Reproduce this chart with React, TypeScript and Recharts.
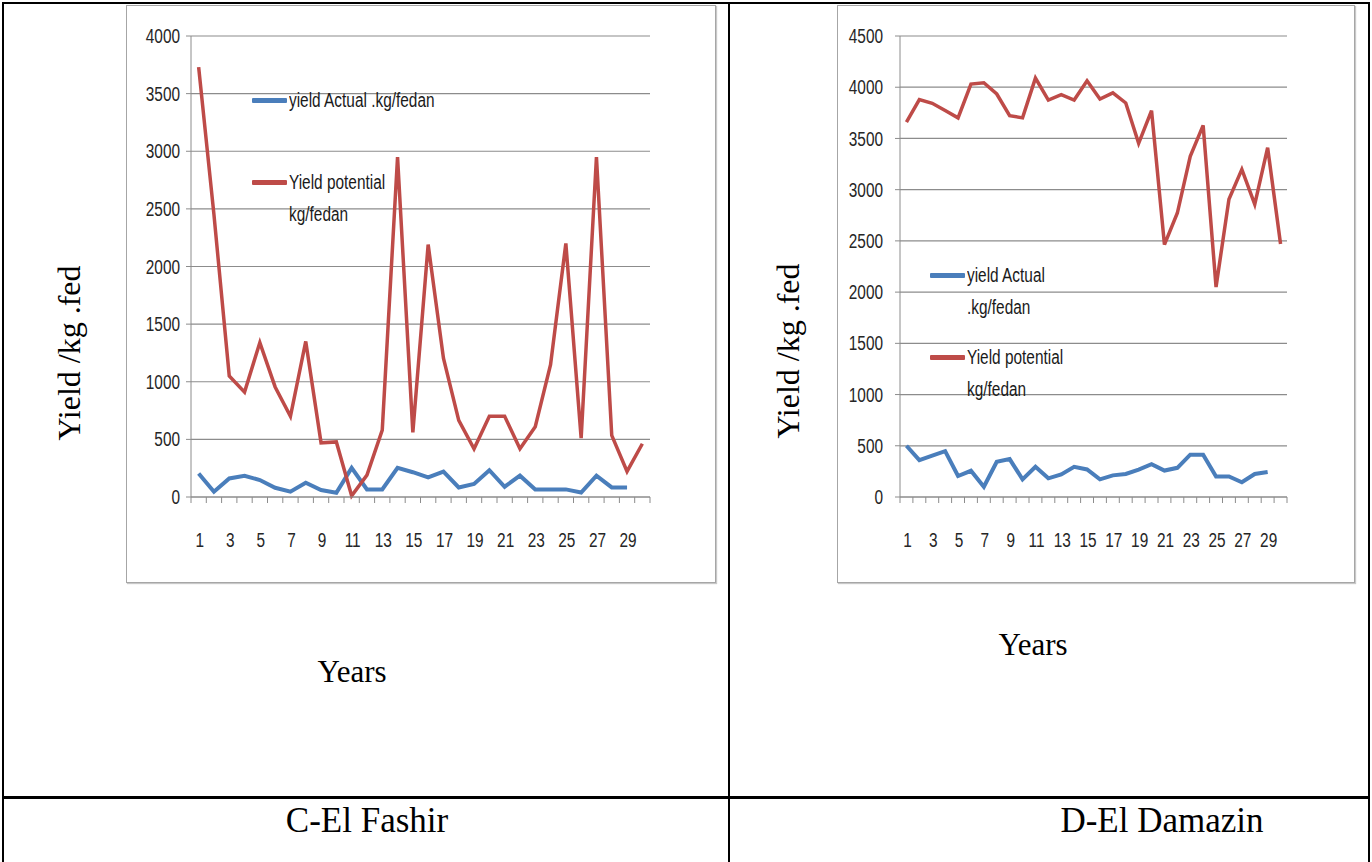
import { LineChart, Line, XAxis, YAxis, CartesianGrid, Legend } from "recharts";

const years = [1, 2, 3, 4, 5, 6, 7, 8, 9, 10, 11, 12, 13, 14, 15, 16, 17, 18, 19, 20, 21, 22, 23, 24, 25, 26, 27, 28, 29, 30];

// El Fashir, kg/fedan
const fashirActual = [204, 46, 161, 184, 147, 80, 46, 124, 60, 37, 253, 66, 66, 253, 215, 170, 220, 83, 113, 232, 89, 185, 66, 66, 66, 39, 185, 83, 83, null];
const fashirPotential = [3730, 2450, 1050, 910, 1340, 955, 700, 1350, 470, 478, 10, 190, 580, 2950, 560, 2190, 1205, 665, 418, 700, 700, 418, 610, 1148, 2200, 510, 2950, 535, 222, 462];
const fashirTicks = [0, 500, 1000, 1500, 2000, 2500, 3000, 3500, 4000];

// El Damazin, kg/fedan
const damazinActual = [500, 360, 403, 448, 205, 256, 100, 344, 370, 172, 295, 182, 221, 295, 269, 172, 211, 225, 268, 321, 258, 285, 413, 413, 201, 201, 144, 225, 245, null];
const damazinPotential = [3659, 3879, 3843, 3772, 3701, 4031, 4044, 3934, 3723, 3701, 4089, 3875, 3927, 3875, 4063, 3885, 3945, 3846, 3452, 3772, 2463, 2772, 3326, 3628, 2050, 2906, 3198, 2856, 3410, 2470];
const damazinTicks = [0, 500, 1000, 1500, 2000, 2500, 3000, 3500, 4000, 4500];

const actualName = "yield Actual .kg/fedan";
const potentialName = "Yield potential kg/fedan";
const fashirLegend = [["yield Actual .kg/fedan"], ["Yield potential", "kg/fedan"]];
const damazinLegend = [["yield Actual", ".kg/fedan"], ["Yield potential", "kg/fedan"]];
const seriesOrder = ["actual", "potential"];

const BLUE = "#4A7EBB";
const RED = "#BE4B48";
const AXIS = "#8C8C8C";
const LABEL = "#262626";
const SANS = "'Liberation Sans', Arial, sans-serif";
const SERIF = "'Liberation Serif', 'Times New Roman', serif";
const SQUEEZE = 0.77; // narrow the sans face to a condensed look
const FONT_SIZE = 20;

const buildRows = (actual: (number | null)[], potential: number[]) =>
  years.map((year, i) => ({ year, actual: actual[i], potential: potential[i] }));

// category tick: mark at the band edges, label on every other year
const YearTick = (props: any) => {
  const { x, y, payload, index, half, count } = props;
  return (
    <g>
      <line x1={x - half} y1={y} x2={x - half} y2={y + 6} stroke={AXIS} />
      {index === count - 1 && <line x1={x + half} y1={y} x2={x + half} y2={y + 6} stroke={AXIS} />}
      {index % 2 === 0 && (
        <text
          transform={`translate(${x + 1},${y + 43}) scale(${SQUEEZE},1)`}
          textAnchor="middle"
          dy="0.355em"
          fill={LABEL}
          fontSize={FONT_SIZE}
          fontFamily={SANS}
        >
          {payload.value}
        </text>
      )}
    </g>
  );
};

const ValueTick = (props: any) => {
  const { x, y, payload } = props;
  return (
    <text
      transform={`translate(${x},${y}) scale(${SQUEEZE},1)`}
      textAnchor="end"
      dy="0.355em"
      fill={LABEL}
      fontSize={FONT_SIZE}
      fontFamily={SANS}
    >
      {payload.value}
    </text>
  );
};

const makeLegend = (lines: string[][], gap: number) => (props: any) => {
  const items = [...(props.payload || [])].sort(
    (a: any, b: any) => seriesOrder.indexOf(a.dataKey) - seriesOrder.indexOf(b.dataKey)
  );
  return (
    <div style={{ fontFamily: SANS, fontSize: FONT_SIZE, lineHeight: "32px", color: "#1a1a1a" }}>
      {items.map((item: any, i: number) => (
        <div key={item.dataKey} style={{ display: "flex", alignItems: "flex-start", marginTop: i ? gap : 0 }}>
          <span
            style={{ display: "inline-block", width: 35, height: 5, marginTop: 14, marginRight: 2, background: item.color, borderRadius: 1 }}
          />
          <div style={{ whiteSpace: "nowrap", transform: `scaleX(${SQUEEZE})`, transformOrigin: "left" }}>
            {lines[seriesOrder.indexOf(item.dataKey)].map((t) => (
              <div key={t}>{t}</div>
            ))}
          </div>
        </div>
      ))}
    </div>
  );
};

type PanelProps = {
  left: number;
  width: number;
  rows: any[];
  ticks: number[];
  yWidth: number;
  tickMargin: number;
  marginRight: number;
  legend: (p: any) => any;
  legendPos: { left: number; top: number };
};

const Panel = ({ left, width, rows, ticks, yWidth, tickMargin, marginRight, legend, legendPos }: PanelProps) => {
  const inner = width - 2;
  const half = (inner - yWidth - marginRight) / (2 * years.length);
  return (
    <div
      style={{
        position: "absolute",
        left,
        top: 5,
        width,
        height: 578,
        boxSizing: "border-box",
        border: "1px solid #A6A6A6",
        boxShadow: "1px 1px 1px #C8C8C8",
        background: "#fff",
      }}
    >
      <LineChart width={inner} height={576} data={rows} margin={{ top: 30, right: marginRight, bottom: 0, left: 0 }}>
        <CartesianGrid vertical={false} stroke={AXIS} strokeWidth={1.2} />
        <XAxis
          dataKey="year"
          interval={0}
          height={85}
          padding={{ left: half, right: half }}
          axisLine={{ stroke: AXIS }}
          tickLine={false}
          tickSize={0}
          tickMargin={0}
          tick={(p: any) => <YearTick {...p} half={half} count={years.length} />}
        />
        <YAxis
          width={yWidth}
          domain={[0, ticks[ticks.length - 1]]}
          ticks={ticks}
          interval={0}
          axisLine={{ stroke: AXIS }}
          tickLine={{ stroke: AXIS }}
          tickSize={5}
          tickMargin={tickMargin}
          tick={(p: any) => <ValueTick {...p} />}
        />
        <Legend
          layout="vertical"
          align="center"
          verticalAlign="middle"
          content={legend}
          wrapperStyle={{ left: legendPos.left, top: legendPos.top, width: "auto" }}
        />
        <Line type="linear" dataKey="actual" name={actualName} stroke={BLUE} strokeWidth={4} dot={false} isAnimationActive={false} />
        <Line type="linear" dataKey="potential" name={potentialName} stroke={RED} strokeWidth={3.5} dot={false} isAnimationActive={false} />
      </LineChart>
    </div>
  );
};

const Caption = ({ x, y, size, rotate, children }: any) => (
  <div
    style={{
      position: "absolute",
      left: x,
      top: y,
      transform: `translate(-50%, -50%)${rotate ? " rotate(-90deg)" : ""}`,
      fontFamily: SERIF,
      fontSize: size,
      lineHeight: 1,
      whiteSpace: "nowrap",
      color: "#000",
    }}
  >
    {children}
  </div>
);

const rule = (left: number, top: number, width: number, height: number) => (
  <div style={{ position: "absolute", left, top, width, height, background: "#000" }} />
);

export default function App() {
  return (
    <div style={{ position: "absolute", left: 0, top: 0, width: 1372, height: 862, background: "#fff", overflow: "hidden" }}>
      {rule(2, 2, 1368, 2)}
      {rule(2, 2, 2, 860)}
      {rule(1368, 2, 2, 860)}
      {rule(728, 2, 2, 860)}
      {rule(2, 796, 1368, 3)}

      <Panel
        left={126}
        width={590}
        rows={buildRows(fashirActual, fashirPotential)}
        ticks={fashirTicks}
        yWidth={64}
        tickMargin={6}
        marginRight={65}
        legend={makeLegend(fashirLegend, 50)}
        legendPos={{ left: 125, top: 78 }}
      />
      <Panel
        left={837}
        width={518}
        rows={buildRows(damazinActual, damazinPotential)}
        ticks={damazinTicks}
        yWidth={62}
        tickMargin={12}
        marginRight={67}
        legend={makeLegend(damazinLegend, 18)}
        legendPos={{ left: 92, top: 253 }}
      />

      <Caption x={69} y={353} size={32} rotate>Yield /kg .fed</Caption>
      <Caption x={788} y={351} size={32} rotate>Yield /kg .fed</Caption>
      <Caption x={352} y={671} size={31}>Years</Caption>
      <Caption x={1033} y={644} size={31}>Years</Caption>
      <Caption x={367} y={820} size={35}>C-El Fashir</Caption>
      <Caption x={1162} y={820} size={35}>D-El Damazin</Caption>
    </div>
  );
}
